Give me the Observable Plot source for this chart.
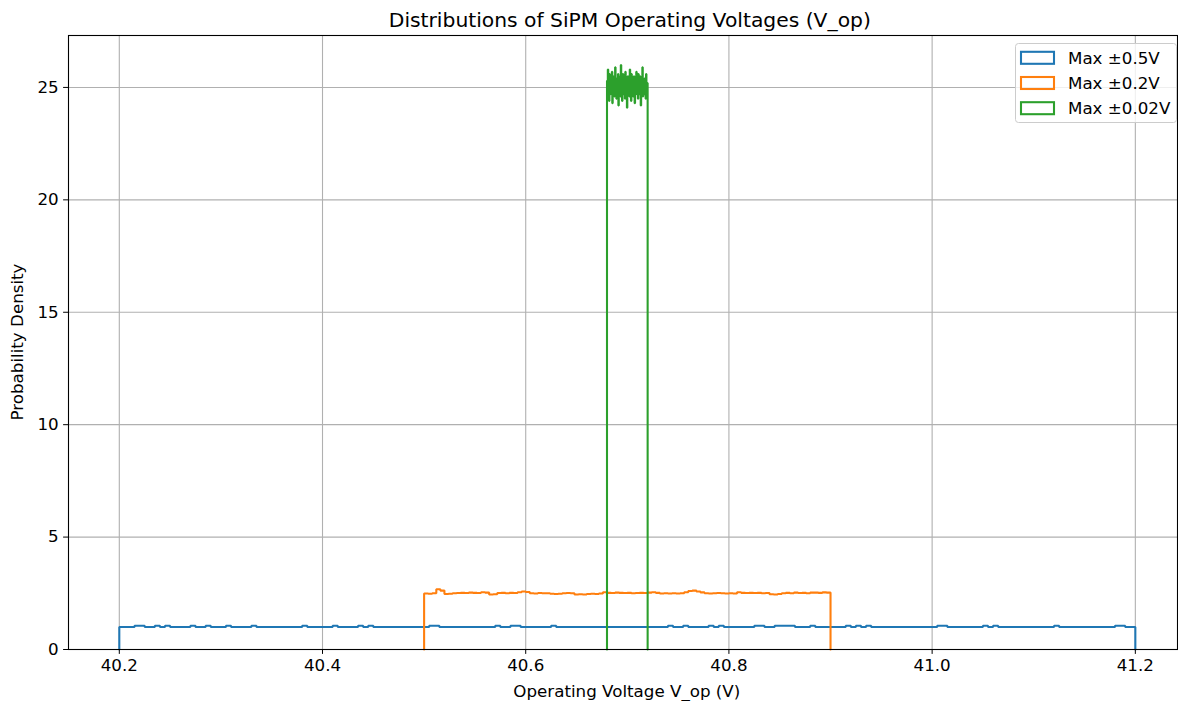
<!DOCTYPE html>
<html><head><meta charset="utf-8">
<script src="https://cdn.jsdelivr.net/npm/d3@7"></script>
<script src="https://cdn.jsdelivr.net/npm/@observablehq/plot@0.6"></script>
<style>html,body{margin:0;padding:0;background:#fff;} svg{display:block} svg text{font-family:'DejaVu Sans',sans-serif !important;}</style>
</head><body><div id="chart"></div>
<script>
const chartTitle = "Distributions of SiPM Operating Voltages (V_op)";
const xLabel = "Operating Voltage V_op (V)";
const yLabel = "Probability Density";
const seriesNames = ["Max ±0.5V", "Max ±0.2V", "Max ±0.02V"];
const seriesColors = ["#1f77b4", "#ff7f0e", "#2ca02c"];
const binRanges = [[40.2, 41.2], [40.5, 40.9], [40.68, 40.72]];
const xTicks = [40.2, 40.4, 40.6, 40.8, 41.0, 41.2];
const yTicks = [0, 5, 10, 15, 20, 25];

const blueDensity = [
  1,1,1,1.06,1.06,1,1,1.06,1,1.06, 1,1,1,1,1.06,1,1,1.06,1,1,
  1,1.06,1,1,1,1,1.06,1,1,1, 1,1,1,1,1,1,1.06,1,1,1,
  1,1,1.06,1,1,1,1,1.06,1,1.06, 1,1,1,1,1,1,1,1,1,1,
  1,1.06,1.06,1,1,1,1,1,1,1, 1,1,1,1,1.06,1,1,1.06,1.06,1,
  1,1,1,1,1,1.06,1,1,1,1, 1,1,1,1,1,1,1,1,1,1,
  1,1,1,1,1,1,1,1,1.06,1, 1,1.06,1,1,1,1,1.06,1,1.06,1,
  1,1,1,1,1,1.06,1.06,1,1,1.06, 1.06,1.06,1.06,1,1,1,1.06,1,1,1,
  1,1,1,1.06,1,1.06,1,1.06,1,1, 1,1,1,1,1,1,1,1,1,1,
  1,1.06,1.06,1,1,1,1,1,1,1, 1.06,1,1.06,1,1,1,1,1,1,1,
  1,1,1,1,1.06,1,1,1,1,1, 1,1,1,1,1,1,1.06,1.06,1,1
];
const orangeDensity = [
  2.49,2.48,2.50,2.68,2.62,2.47,2.48,2.50,2.51,2.52,
  2.51,2.53,2.52,2.51,2.55,2.53,2.45,2.46,2.51,2.52,
  2.50,2.52,2.51,2.55,2.58,2.56,2.50,2.49,2.51,2.50,
  2.50,2.48,2.47,2.48,2.50,2.51,2.50,2.45,2.46,2.45,
  2.47,2.48,2.47,2.49,2.55,2.52,2.51,2.53,2.52,2.51,
  2.52,2.50,2.51,2.52,2.51,2.53,2.55,2.52,2.49,2.50,
  2.49,2.50,2.49,2.50,2.55,2.60,2.62,2.58,2.54,2.50,
  2.49,2.50,2.51,2.50,2.49,2.50,2.49,2.55,2.52,2.51,
  2.52,2.51,2.52,2.50,2.51,2.46,2.45,2.47,2.50,2.52,
  2.50,2.53,2.51,2.52,2.50,2.53,2.53,2.52,2.54,2.53
];
const greenDensity = [
  25.3,24.6,25.8,24.9,25.1,24.4,25.6,25.0,24.7,25.4,
  25.2,24.8,25.7,24.3,25.1,25.5,24.9,25.0,24.6,25.3,
  25.9,24.7,25.2,24.5,25.4,25.0,24.8,25.6,24.2,25.1,
  25.3,24.9,25.5,24.6,26.0,24.8,25.2,24.4,25.0,25.6,
  24.7,25.3,24.9,25.1,24.5,25.7,25.0,24.8,25.4,24.1,
  25.2,25.5,24.7,25.0,25.3,24.6,25.8,24.9,25.1,24.4,
  25.6,25.0,24.8,25.3,24.6,25.2,25.5,24.9,24.3,25.4,
  25.1,24.7,25.7,25.0,24.8,25.2,24.5,25.6,24.9,25.3,
  24.7,25.5,25.0,24.2,25.4,24.8,25.1,25.9,24.6,25.2,
  25.0,24.7,25.4,24.9,25.3,24.5,25.6,25.0,24.8,25.2
];
const densities = [blueDensity, orangeDensity, greenDensity];

function stepPoints(values, range, name) {
  const [lo, hi] = range, n = values.length, w = (hi - lo) / n;
  const pts = [{x: lo, y: 0, series: name}];
  values.forEach((v, i) => {
    pts.push({x: lo + i * w, y: v, series: name});
    pts.push({x: lo + (i + 1) * w, y: v, series: name});
  });
  pts.push({x: hi, y: 0, series: name});
  return pts;
}

const font = "'DejaVu Sans', sans-serif";
const xDomain = [40.15, 41.2415];
const midX = 40.7;

const chart = Plot.plot({
  width: 1178, height: 701,
  marginLeft: 68, marginRight: 1, marginTop: 35, marginBottom: 52,
  style: {fontFamily: font, fontSize: "16.7px", color: "#000", background: "#fff", overflow: "visible"},
  x: {domain: xDomain},
  y: {domain: [0, 27.31]},
  marks: [
    Plot.gridX(xTicks, {stroke: "#b0b0b0", strokeOpacity: 1, strokeWidth: 1.1}),
    Plot.gridY(yTicks, {stroke: "#b0b0b0", strokeOpacity: 1, strokeWidth: 1.1}),
    ...densities.map((d, i) => Plot.line(stepPoints(d, binRanges[i], seriesNames[i]),
      {x: "x", y: "y", stroke: seriesColors[i], strokeWidth: 2.08, strokeLinejoin: "miter"})),
    Plot.frame({stroke: "#000", strokeWidth: 1.1}),
    Plot.axisX(xTicks, {tickSize: 4.9, tickPadding: 4.9, tickFormat: d3.format(".1f"), label: null}),
    Plot.axisY(yTicks, {tickSize: 4.9, tickPadding: 4.9, tickFormat: d3.format("d"), label: null})
  ]
});

const svg = d3.select(chart);
svg.selectAll("text").style("font-size", "16.7px").style("font-family", font);

const sx = chart.scale("x"), sy = chart.scale("y");
const cx = sx.apply(midX);
const cyMid = (sy.apply(0) + sy.apply(27.31)) / 2;
const labels = svg.append("g").attr("fill", "#000").style("font-family", font).style("font-size", "16.7px");
labels.append("text").attr("x", cx + 3).attr("y", 27).attr("text-anchor", "middle").style("font-size", "20.3px").text(chartTitle);
labels.append("text").attr("x", cx).attr("y", 697).attr("text-anchor", "middle").text(xLabel);
labels.append("text").attr("transform", `translate(23,${cyMid}) rotate(-90)`).attr("text-anchor", "middle").text(yLabel);

// legend
const lg = svg.append("g").attr("text-anchor", "start");
lg.append("rect").attr("x", 1015.5).attr("y", 43.5).attr("width", 161).attr("height", 79)
  .attr("rx", 3).attr("fill", "#fff").attr("fill-opacity", 0.8).attr("stroke", "#cccccc").attr("stroke-width", 1);
seriesNames.forEach((name, i) => {
  const cy = 57.8 + i * 25.2;
  lg.append("rect").attr("x", 1021).attr("y", cy - 6).attr("width", 33).attr("height", 12)
    .attr("fill", "none").attr("stroke", seriesColors[i]).attr("stroke-width", 2.08);
  lg.append("text").attr("x", 1068).attr("y", cy).attr("dy", "0.35em").attr("fill", "#000")
    .attr("text-anchor", "start").style("font-size", "16.7px").style("font-family", font).text(name);
});

document.getElementById("chart").appendChild(chart);
</script>
</body></html>
